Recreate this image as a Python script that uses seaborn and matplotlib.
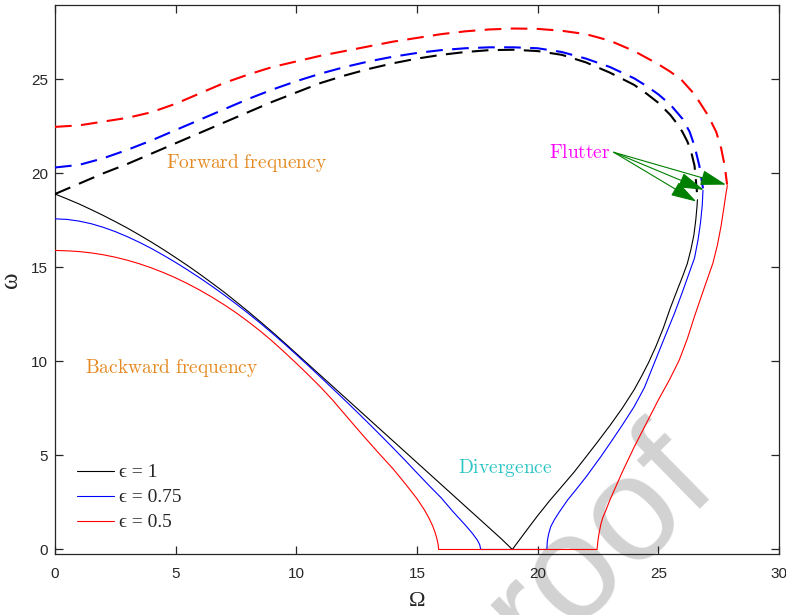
import matplotlib
matplotlib.use("Agg")
import matplotlib.pyplot as plt
import seaborn as sns

# ---------------- data ----------------
# epsilon = 1 (black): backward branch, divergence point, forward-rising branch
blk_solid_x = [0, 0.5, 1, 1.5, 2, 2.5, 3, 3.5, 4, 4.5, 5, 5.5, 6, 6.5, 7, 7.5, 8, 8.5, 9, 9.5,
               10, 10.5, 11, 11.5, 12, 12.5, 13, 13.5, 14, 14.5, 15, 15.5, 16, 16.5, 17, 17.5, 18, 18.5, 18.95,
               19.5, 20, 20.5, 21, 21.5, 22, 22.5, 23, 23.5, 24, 24.3, 24.6, 24.9, 25.2, 25.5, 25.8, 26.0,
               26.2, 26.35, 26.47, 26.55, 26.6, 26.62]
blk_solid_y = [18.9, 18.64, 18.37, 18.07, 17.76, 17.43, 17.09, 16.72, 16.34, 15.94, 15.52, 15.09, 14.64, 14.17,
               13.69, 13.18, 12.66, 12.12, 11.57, 11.0, 10.42, 9.84, 9.26, 8.68, 8.1, 7.52, 6.94, 6.36, 5.78,
               5.2, 4.62, 4.04, 3.46, 2.88, 2.3, 1.72, 1.14, 0.56, 0.0,
               0.95, 1.8, 2.6, 3.35, 4.1, 4.92, 5.75, 6.6, 7.5, 8.5, 9.2, 9.95, 10.8, 11.75, 12.85, 13.85, 14.5,
               15.2, 15.95, 16.7, 17.5, 18.2, 18.6]
blk_dash_x = [0, 1, 2, 3, 4, 5, 6, 7, 8, 9, 10, 11, 12, 13, 14, 15, 16, 17, 18, 19, 20, 21, 22, 23, 24, 24.5,
              25, 25.5, 25.8, 26, 26.2, 26.35, 26.5, 26.6]
blk_dash_y = [18.9, 19.45, 20.0, 20.5, 21.05, 21.6, 22.15, 22.7, 23.25, 23.8, 24.3, 24.8, 25.2, 25.55, 25.85, 26.1,
              26.3, 26.45, 26.55, 26.57, 26.5, 26.3, 25.9, 25.35, 24.7, 24.25, 23.75, 23.1, 22.6, 22.2, 21.7,
              21.2, 20.4, 19.0]

# epsilon = 0.75 (blue)
blu_solid_x = [0, 0.5, 1, 1.5, 2, 2.5, 3, 3.5, 4, 4.5, 5, 5.5, 6, 6.5, 7, 7.5, 8, 8.5, 9, 9.5,
               10, 10.5, 11, 11.5, 12, 12.5, 13, 13.5, 14, 14.5, 15, 15.5, 16, 16.5, 17, 17.3, 17.5, 17.6, 17.64,
               20.38, 20.4, 20.45, 20.54, 20.7, 20.9, 21.24, 21.6, 22, 22.62, 23, 23.5, 24, 24.42, 24.86, 25.3,
               25.67, 26.0, 26.25, 26.5, 26.65, 26.75, 26.82, 26.85]
blu_solid_y = [17.58, 17.55, 17.46, 17.32, 17.13, 16.9, 16.63, 16.33, 16.0, 15.64, 15.26, 14.86, 14.44, 14.0,
               13.54, 13.06, 12.56, 12.04, 11.5, 10.94, 10.36, 9.77, 9.17, 8.56, 7.95, 7.33, 6.7, 6.06, 5.41,
               4.75, 4.07, 3.4, 2.75, 2.0, 1.3, 0.85, 0.5, 0.25, 0.0,
               0.0, 0.45, 0.8, 1.21, 1.6, 2.0, 2.63, 3.2, 3.85, 4.94, 5.65, 6.6, 7.6, 8.6, 10.0, 11.4,
               12.56, 13.7, 14.6, 15.5, 16.5, 17.4, 18.3, 19.1]
blu_dash_x = [0, 1, 2, 3, 4, 5, 6, 7, 8, 9, 10, 11, 12, 13, 14, 15, 16, 17, 18, 19, 20, 21, 22, 23, 24, 24.5,
              25, 25.5, 26, 26.3, 26.5, 26.7, 26.85]
blu_dash_y = [20.31, 20.45, 20.8, 21.25, 21.75, 22.3, 22.85, 23.4, 23.95, 24.45, 24.9, 25.3, 25.65, 25.95, 26.2, 26.4,
              26.55, 26.65, 26.7, 26.7, 26.65, 26.45, 26.1, 25.65, 25.05, 24.65, 24.2, 23.65, 22.9, 22.2, 21.45,
              20.4, 19.2]

# epsilon = 0.5 (red)
red_solid_x = [0, 0.5, 1, 1.5, 2, 2.5, 3, 3.5, 4, 4.5, 5, 5.5, 6, 6.5, 7, 7.5, 8, 8.5, 9, 9.5,
               10, 10.5, 11, 11.5, 12, 12.5, 13, 13.5, 14, 14.5, 15, 15.3, 15.5, 15.65, 15.75, 15.82, 15.87, 15.9,
               22.46, 22.5, 22.55, 22.62, 22.7, 22.8, 23.0, 23.5, 24.0, 24.5, 25.0, 25.46, 25.87, 26.2, 26.5,
               26.9, 27.26, 27.45, 27.6, 27.72, 27.8, 27.86]
red_solid_y = [15.9, 15.88, 15.84, 15.77, 15.67, 15.54, 15.38, 15.19, 14.97, 14.72, 14.44, 14.13, 13.79, 13.42,
               13.02, 12.59, 12.12, 11.62, 11.08, 10.5, 9.9, 9.28, 8.64, 7.95, 7.2, 6.45, 5.72, 5.0, 4.3,
               3.52, 2.7, 2.12, 1.66, 1.25, 0.9, 0.6, 0.3, 0.0,
               0.0, 0.5, 0.9, 1.35, 1.7, 2.0, 2.65, 4.1, 5.45, 6.7, 7.95, 9.02, 10.08, 11.2, 12.4,
               13.9, 15.22, 16.2, 17.2, 18.2, 18.9, 19.35]
red_dash_x = [0, 1, 2, 3, 4, 5, 6, 7, 8, 9, 10, 11, 12, 13, 14, 15, 16, 17, 18, 19, 20, 21, 22, 23, 24, 24.5,
              25, 25.5, 25.96, 26.5, 27.05, 27.4, 27.6, 27.75, 27.85]
red_dash_y = [22.47, 22.55, 22.75, 22.95, 23.25, 23.7, 24.25, 24.8, 25.25, 25.65, 25.95, 26.25, 26.5, 26.75, 27.0,
              27.2, 27.4, 27.55, 27.65, 27.7, 27.68, 27.58, 27.4, 27.05, 26.5, 26.15, 25.8, 25.4, 24.97, 24.2,
              23.1, 22.2, 21.35, 20.4, 19.4]

legend_labels = ["\u03f5 = 1", "\u03f5 = 0.75", "\u03f5 = 0.5"]
x_ticks = [0, 5, 10, 15, 20, 25, 30]
y_ticks = [0, 5, 10, 15, 20, 25]

flutter_start = (23.15, 21.12)
flutter_targets = [(26.57, 18.5), (26.88, 19.12), (27.8, 19.4)]

# ---------------- styling ----------------
sns.set_theme(style="white")
plt.rcParams["font.family"] = ["Liberation Sans", "DejaVu Sans"]
plt.rcParams["mathtext.fontset"] = "cm"

W, H = 786, 615
fig = plt.figure(figsize=(W / 100, H / 100), dpi=100)
fig.patch.set_facecolor("white")
ax = fig.add_axes([55 / W, 1 - 554 / H, (779 - 55) / W, (554 - 5) / H])
ax.set_facecolor("none")

# watermark (cut-off "Journal Pre-proof" stamp of the source)
fig.text(536 / W, 1 - 661 / H, "roof", fontsize=107, color="#d2d2d2",
         rotation=44.5, rotation_mode="anchor", ha="left", va="baseline",
         family=["Liberation Sans"], zorder=-5)

solid_lw = 0.8
dash_lw = 1.5
dash_style = (0, (8, 4.5))

curves = [
    (blk_solid_x, blk_solid_y, blk_dash_x, blk_dash_y, "black"),
    (blu_solid_x, blu_solid_y, blu_dash_x, blu_dash_y, "#0000ff"),
    (red_solid_x, red_solid_y, red_dash_x, red_dash_y, "#ff0000"),
]
handles = []
for sx, sy, dx, dy, col in curves:
    sns.lineplot(x=sx, y=sy, ax=ax, sort=False, estimator=None, color=col, lw=solid_lw, zorder=3)
    handles.append(ax.get_lines()[-1])
    sns.lineplot(x=dx, y=dy, ax=ax, sort=False, estimator=None, color=col, lw=dash_lw,
                 linestyle=dash_style, zorder=3)

ax.set_xlim(0, 30)
ax.set_ylim(-0.24, 28.95)
ax.set_xticks(x_ticks)
ax.set_yticks(y_ticks)
ax.set_xticklabels([str(t) for t in x_ticks])
ax.set_yticklabels([str(t) for t in y_ticks])

for s in ax.spines.values():
    s.set_color("#262626")
    s.set_linewidth(0.9)
    s.set_visible(True)
ax.tick_params(axis="both", which="major", direction="in", length=6, width=0.9,
               color="#262626", labelcolor="#262626", labelsize=11,
               top=True, right=True, bottom=True, left=True)
ax.tick_params(axis="x", pad=9)
ax.tick_params(axis="y", pad=5)

ax.set_xlabel("\u03a9", fontsize=16, family=["Liberation Serif", "DejaVu Serif"], color="#262626")
ax.set_ylabel("\u03c9", fontsize=18, family=["Liberation Serif", "DejaVu Serif"], color="#262626")
ax.xaxis.set_label_coords(0.5, -0.07)
ax.yaxis.set_label_coords(-0.045, 0.5)

# annotations
orange = "#e58a22"
ax.text(4.59, 20.56, r"$\mathrm{Forward\ frequency}$", color=orange, fontsize=14, ha="left", va="center")
ax.text(1.23, 9.65, r"$\mathrm{Backward\ frequency}$", color=orange, fontsize=14, ha="left", va="center")
ax.text(16.68, 4.34, r"$\mathrm{Divergence}$", color="#2cc5c5", fontsize=14, ha="left", va="center")
ax.text(20.46, 21.1, r"$\mathrm{Flutter}$", color="#ff00ff", fontsize=14, ha="left", va="center")
for tgt in flutter_targets:
    ax.annotate("", xy=tgt, xytext=flutter_start,
                arrowprops=dict(arrowstyle="-|>,head_length=1.0,head_width=0.3",
                                color="#008000", lw=0.8, mutation_scale=16,
                                shrinkA=0, shrinkB=0), zorder=4)

leg = ax.legend(handles, legend_labels, loc="lower left", bbox_to_anchor=(0.03, 0.041),
                frameon=False, borderpad=0, borderaxespad=0, handlelength=1.9,
                handletextpad=0.3, labelspacing=0.38,
                prop={"family": ["Liberation Serif", "DejaVu Serif"], "size": 14})

fig.savefig("out.png", dpi=100)
